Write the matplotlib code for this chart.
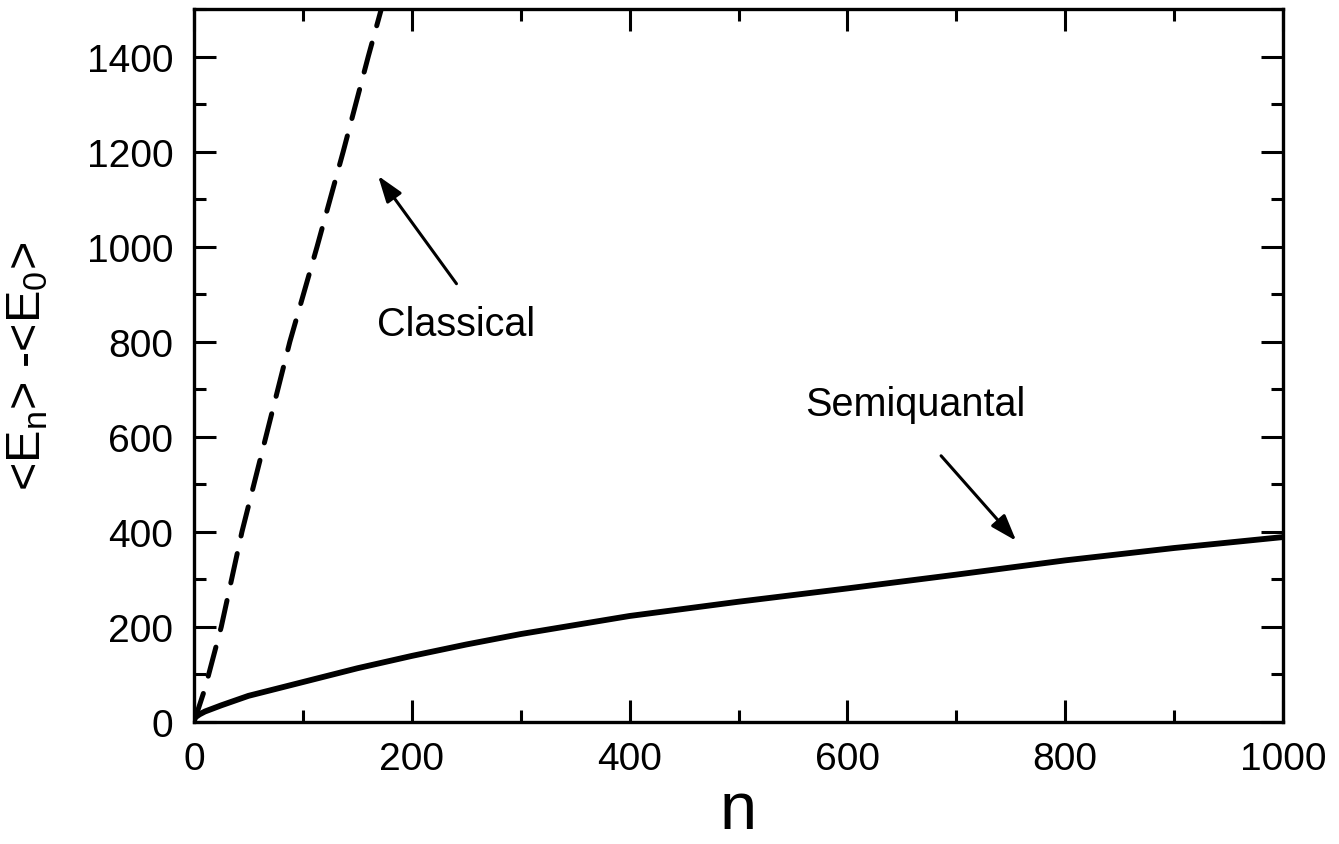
import numpy as np
import matplotlib.pyplot as plt
from matplotlib.ticker import MultipleLocator

plt.rcParams['font.family'] = ['Liberation Sans', 'DejaVu Sans']
plt.rcParams['mathtext.fontset'] = 'custom'
plt.rcParams['mathtext.rm'] = 'Liberation Sans'
plt.rcParams['mathtext.it'] = 'Liberation Sans:italic'

# Semiquantal curve (solid)
n_semi = [0, 5, 10, 25, 50, 100, 150, 200, 250, 300, 400, 500, 600, 700, 800, 900, 1000]
e_semi = [8, 16, 22, 35, 55, 84, 113, 139, 163, 185, 223, 253, 281, 310, 340, 366, 389]

# Classical curve (dashed)
n_class = [0, 10, 25, 44, 66, 88, 113, 137, 160, 172, 180]
e_class = [0, 70, 200, 400, 600, 800, 1000, 1200, 1400, 1500, 1570]

fig = plt.figure(figsize=(13.39, 8.45), dpi=100)
ax = fig.add_axes([0.1449, 0.1444, 0.8133, 0.8438])

ax.plot(n_semi, e_semi, color='black', lw=4.2, solid_joinstyle='round')
ax.plot(n_class, e_class, color='black', lw=3.6, dashes=(6.0, 3.6), dash_capstyle='round')

ax.set_xlim(0, 1000)
ax.set_ylim(0, 1500)
ax.xaxis.set_major_locator(MultipleLocator(200))
ax.xaxis.set_minor_locator(MultipleLocator(100))
ax.yaxis.set_major_locator(MultipleLocator(200))
ax.yaxis.set_minor_locator(MultipleLocator(100))

ax.tick_params(which='both', direction='in', top=True, right=True, width=2.2)
ax.tick_params(which='major', length=16)
ax.tick_params(which='minor', length=8.5)
ax.tick_params(axis='x', which='major', labelsize=28, pad=14)
ax.tick_params(axis='y', which='major', labelsize=28, pad=15)
for s in ax.spines.values():
    s.set_linewidth(2.4)

ax.set_xlabel('n', fontsize=48, labelpad=2)
ax.set_ylabel(r'<E$_\mathregular{n}$> -<E$_\mathregular{0}$>', fontsize=35, labelpad=26)

arrow = dict(arrowstyle='-|>,head_length=1.6,head_width=0.55', color='black', lw=2.2,
             shrinkA=0, shrinkB=0)
ax.annotate('', xy=(169, 1149), xytext=(241, 922), arrowprops=arrow)
ax.text(168, 838, 'Classical', fontsize=28.5, va='center', ha='left')

ax.annotate('', xy=(755, 381), xytext=(686, 560), arrowprops=arrow)
ax.text(561, 669, 'Semiquantal', fontsize=28.5, va='center', ha='left')

fig.savefig('out.png', dpi=100)
